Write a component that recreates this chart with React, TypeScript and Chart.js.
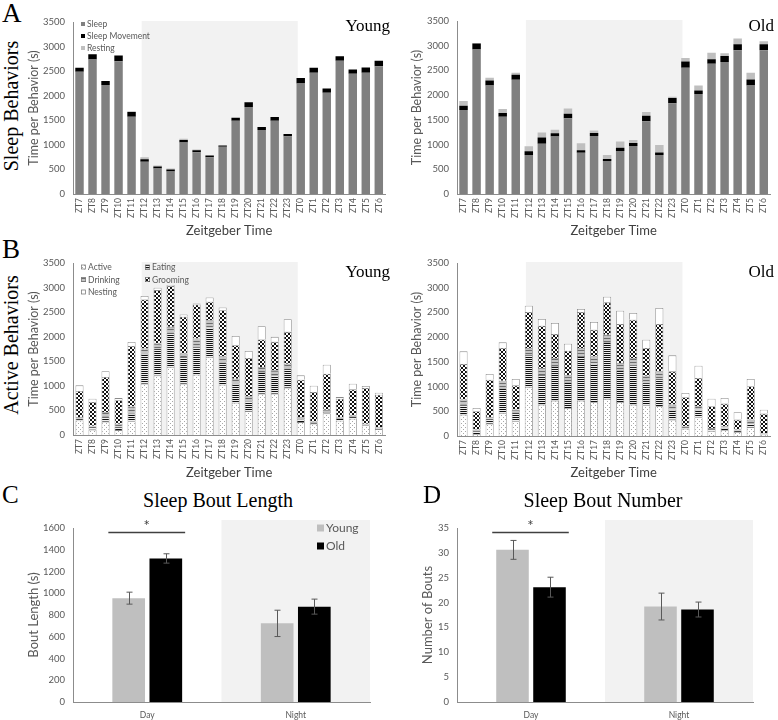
import React, { useEffect, useRef } from "react";
import { Chart, registerables } from "chart.js";
Chart.register(...registerables);

// ---------- data ----------
const ztLabels = ["ZT7","ZT8","ZT9","ZT10","ZT11","ZT12","ZT13","ZT14","ZT15","ZT16","ZT17","ZT18","ZT19","ZT20","ZT21","ZT22","ZT23","ZT0","ZT1","ZT2","ZT3","ZT4","ZT5","ZT6"];

const youngSleep = [2486,2736,2216,2703,1574,655,520,459,1047,851,750,959,1493,1770,1304,1493,1176,2250,2466,2061,2709,2446,2466,2601];
const youngSleepMovement = [82,109,81,115,95,54,41,41,54,41,34,27,61,95,61,75,47,108,102,88,95,88,108,108];
const youngResting = [0,0,0,0,13,41,20,20,21,13,0,0,0,0,0,0,0,0,0,0,0,0,0,0];

const oldSleep = [1698,2921,2194,1562,2310,788,1019,1162,1535,836,1175,666,870,971,1474,788,1834,2554,2024,2636,2670,2908,2194,2908];
const oldSleepMovement = [89,122,102,75,102,75,122,68,89,47,61,41,68,62,109,54,109,129,68,88,122,122,123,122];
const oldResting = [95,14,55,82,40,102,102,68,108,143,48,81,122,61,75,150,27,68,102,136,54,115,135,61];

const youngActive = [296,110,270,100,282,1044,1214,1384,1044,1228,1588,1024,656,486,840,840,963,262,228,440,290,330,200,120];
const youngEating = [40,60,100,70,151,612,545,700,544,565,600,450,390,200,444,376,389,60,30,26,50,50,20,20];
const youngDrinking = [28,20,100,60,149,103,102,117,68,170,149,128,100,100,100,100,100,41,18,48,23,18,8,20];
const youngGrooming = [530,480,710,476,1231,1000,1088,830,749,694,374,939,681,782,558,579,647,763,598,734,375,531,728,660];
const youngNesting = [116,68,116,45,81,68,48,20,47,20,88,54,190,143,272,102,258,88,130,184,33,116,41,41];

const oldActive = [433,40,250,466,298,990,635,716,567,716,682,749,689,635,621,601,332,150,380,100,120,80,180,30];
const oldEating = [200,60,100,500,180,650,600,700,520,900,780,1150,640,800,460,560,200,30,150,40,50,30,80,20];
const oldDrinking = [103,29,35,154,56,140,141,162,141,164,150,151,148,143,140,147,103,17,71,23,27,19,72,12];
const oldGrooming = [721,371,755,660,491,728,856,486,499,728,539,654,788,775,559,957,673,586,573,438,458,203,673,391];
const oldNesting = [256,67,115,115,128,128,135,222,141,60,155,114,269,135,169,324,324,87,249,155,114,148,148,80];

const periodLabels = ["Day", "Night"];
const boutLengthYoung = [955, 723];
const boutLengthYoungErr = [55, 121];
const boutLengthOld = [1320, 877];
const boutLengthOldErr = [43, 69];
const boutNumberYoung = [30.6, 19.2];
const boutNumberYoungErr = [1.9, 2.7];
const boutNumberOld = [23.1, 18.6];
const boutNumberOldErr = [2.0, 1.5];

const sleepTicksMax = 3500;
const sleepTicksStep = 500;

// ---------- styling ----------
const FONT = "Lato, 'Open Sans', sans-serif";
const SERIF = "'Liberation Serif', 'Times New Roman', serif";
const TICK = "#595959";
const AXIS = "#8c8c8c";
const SHADE = "#f2f2f2";

type Box = { left: number; top: number; width: number; height: number };
type Area = { l: number; t: number; r: number; b: number };

function makePattern(kind: string): any {
  const c = document.createElement("canvas");
  const g = c.getContext("2d")!;
  if (kind === "active") {
    c.width = 4; c.height = 4;
    g.fillStyle = "#ffffff"; g.fillRect(0, 0, 4, 4);
    g.fillStyle = "#a8a8a8"; g.fillRect(0, 0, 1, 1); g.fillRect(2, 2, 1, 1);
  } else if (kind === "drinking") {
    c.width = 4; c.height = 3;
    g.fillStyle = "#c4c4c4"; g.fillRect(0, 0, 4, 3);
    g.fillStyle = "#6e6e6e"; g.fillRect(0, 0, 4, 1);
  } else if (kind === "eating") {
    c.width = 4; c.height = 2;
    g.fillStyle = "#f0f0f0"; g.fillRect(0, 0, 4, 2);
    g.fillStyle = "#111111"; g.fillRect(0, 0, 4, 1);
  } else if (kind === "grooming") {
    c.width = 4; c.height = 4;
    g.fillStyle = "#ffffff"; g.fillRect(0, 0, 4, 4);
    g.fillStyle = "#111111"; g.fillRect(0, 0, 2, 2); g.fillRect(2, 2, 2, 2);
  }
  return g.createPattern(c, "repeat");
}

function frame(box: Box, area: Area, opts: any) {
  return {
    responsive: false,
    animation: false,
    devicePixelRatio: 1,
    layout: { padding: { top: area.t - box.top, right: box.left + box.width - area.r, left: 0, bottom: 0 } },
    plugins: { legend: { display: false }, tooltip: { enabled: false } },
    scales: {
      x: {
        stacked: opts.stacked,
        grid: { display: false, drawTicks: false },
        border: { display: true, color: AXIS },
        ticks: {
          autoSkip: false,
          minRotation: opts.rot ? 90 : 0,
          maxRotation: opts.rot ? 90 : 0,
          color: TICK,
          font: { family: FONT, size: opts.xFont },
          padding: opts.xPad,
        },
        title: opts.xTitle
          ? { display: true, text: opts.xTitle, color: "#404040", font: { family: FONT, size: 13 }, padding: { top: 2, bottom: 4 } }
          : { display: false },
        afterFit: (s: any) => { s.height = box.top + box.height - area.b; },
      },
      y: {
        stacked: opts.stacked,
        min: 0,
        max: opts.yMax,
        grid: { display: false, drawTicks: false },
        border: { display: true, color: AXIS },
        ticks: {
          stepSize: opts.yStep,
          color: TICK,
          font: { family: FONT, size: 9.5 },
          padding: 8,
          callback: (v: any) => String(v),
        },
        title: { display: true, text: opts.yTitle, color: TICK, font: { family: FONT, size: opts.yTitleSize }, padding: { top: 2, bottom: 2 } },
        afterFit: (s: any) => { s.width = area.l - box.left; },
      },
    },
  };
}

const nightShade = (startIdx: number, endIdx: number) => ({
  id: "nightShade",
  beforeDraw(chart: any) {
    const { ctx, chartArea, scales } = chart;
    const x = scales.x;
    const step = x.getPixelForValue(1) - x.getPixelForValue(0);
    const x0 = x.getPixelForValue(startIdx) - 0.22 * step;
    const x1 = x.getPixelForValue(endIdx) + 0.77 * step;
    ctx.save();
    ctx.fillStyle = SHADE;
    ctx.fillRect(x0, chartArea.top - 1, x1 - x0, chartArea.bottom - chartArea.top + 1);
    ctx.restore();
  },
});

const halfShade = {
  id: "halfShade",
  beforeDraw(chart: any) {
    const { ctx, chartArea, scales } = chart;
    const x = scales.x;
    const step = x.getPixelForValue(1) - x.getPixelForValue(0);
    const x0 = x.getPixelForValue(1) - step / 2;
    ctx.save();
    ctx.fillStyle = SHADE;
    ctx.fillRect(x0, chartArea.top - 8, chartArea.right - x0, chartArea.bottom - chartArea.top + 8);
    ctx.restore();
  },
};

type LegPos = { dx: number; dy: number };
const legendPlugin = (pos: (LegPos | null)[], size: number, font: number, fromRight: boolean, stroke: boolean) => ({
  id: "customLegend",
  afterDraw(chart: any) {
    const { ctx, chartArea } = chart;
    ctx.save();
    ctx.font = `${font}px ${FONT}`;
    ctx.textBaseline = "middle";
    ctx.textAlign = "left";
    chart.data.datasets.forEach((ds: any, i: number) => {
      const p = pos[i];
      if (!p) return;
      const bx = (fromRight ? chartArea.right : chartArea.left) + p.dx;
      const by = chartArea.top + p.dy;
      ctx.fillStyle = ds.backgroundColor;
      ctx.fillRect(bx, by - size / 2, size, size);
      if (stroke) {
        ctx.strokeStyle = "#7f7f7f";
        ctx.lineWidth = 0.8;
        ctx.strokeRect(bx + 0.5, by - size / 2 + 0.5, size - 1, size - 1);
      }
      ctx.fillStyle = TICK;
      ctx.fillText(ds.label, bx + size + 2, by + 0.5);
    });
    ctx.restore();
  },
});

const errorBars = (errs: number[][]) => ({
  id: "errorBars",
  afterDatasetsDraw(chart: any) {
    const { ctx, scales } = chart;
    const y = scales.y;
    ctx.save();
    ctx.strokeStyle = "#595959";
    ctx.lineWidth = 1;
    chart.data.datasets.forEach((ds: any, i: number) => {
      chart.getDatasetMeta(i).data.forEach((bar: any, j: number) => {
        const v = ds.data[j];
        const e = errs[i][j];
        const yt = y.getPixelForValue(v + e);
        const yb = y.getPixelForValue(v - e);
        const x = Math.round(bar.x) + 0.5;
        ctx.beginPath();
        ctx.moveTo(x, yt); ctx.lineTo(x, yb);
        ctx.moveTo(x - 3, yt); ctx.lineTo(x + 3, yt);
        ctx.moveTo(x - 3, yb); ctx.lineTo(x + 3, yb);
        ctx.stroke();
      });
    });
    ctx.restore();
  },
});

const sigMark = {
  id: "sigMark",
  afterDatasetsDraw(chart: any) {
    const { ctx, chartArea } = chart;
    const b0 = chart.getDatasetMeta(0).data[0];
    const b1 = chart.getDatasetMeta(1).data[0];
    const x0 = b0.x - b0.width / 2 - 4;
    const x1 = b1.x + b1.width / 2 + 3;
    const yy = chartArea.top + 4.5;
    ctx.save();
    ctx.strokeStyle = "#404040";
    ctx.lineWidth = 1.5;
    ctx.beginPath(); ctx.moveTo(x0, yy); ctx.lineTo(x1, yy); ctx.stroke();
    ctx.fillStyle = "#404040";
    ctx.font = `15px ${FONT}`;
    ctx.textAlign = "center";
    ctx.textBaseline = "middle";
    ctx.fillText("*", (x0 + x1) / 2, yy - 6);
    ctx.restore();
  },
};

// ---------- chart builders ----------
function sleepConfig(box: Box, area: Area, sleep: number[], mov: number[], rest: number[], withLegend: boolean) {
  const plugins: any[] = [nightShade(5, 16)];
  if (withLegend) plugins.push(legendPlugin([{ dx: 8, dy: 2 }, { dx: 8, dy: 14 }, { dx: 8, dy: 26 }], 4, 8.5, false, false));
  return {
    type: "bar",
    data: {
      labels: ztLabels,
      datasets: [
        { label: "Sleep", data: sleep, backgroundColor: "#808080", barPercentage: 0.65, categoryPercentage: 1 },
        { label: "Sleep Movement", data: mov, backgroundColor: "#000000", barPercentage: 0.65, categoryPercentage: 1 },
        { label: "Resting", data: rest, backgroundColor: "#bfbfbf", barPercentage: 0.65, categoryPercentage: 1 },
      ],
    },
    options: frame(box, area, { stacked: true, rot: true, xPad: 4, xFont: 8.5, xTitle: "Zeitgeber Time", yMax: sleepTicksMax, yStep: sleepTicksStep, yTitle: "Time per Behavior (s)", yTitleSize: 12.5 }),
    plugins,
  };
}

function activeConfig(box: Box, area: Area, act: number[], eat: number[], drink: number[], groom: number[], nest: number[], withLegend: boolean) {
  const plugins: any[] = [nightShade(5, 16)];
  if (withLegend)
    plugins.push(legendPlugin([{ dx: 8, dy: 4 }, { dx: 72, dy: 4 }, { dx: 8, dy: 16.5 }, { dx: 72, dy: 16.5 }, { dx: 8, dy: 29 }], 5, 8.5, false, true));
  const common = { barPercentage: 0.62, categoryPercentage: 1, borderColor: "#8a8a8a", borderWidth: 0.8 };
  return {
    type: "bar",
    data: {
      labels: ztLabels,
      datasets: [
        { label: "Active", data: act, backgroundColor: makePattern("active"), ...common },
        { label: "Eating", data: eat, backgroundColor: makePattern("eating"), ...common },
        { label: "Drinking", data: drink, backgroundColor: makePattern("drinking"), ...common },
        { label: "Grooming", data: groom, backgroundColor: makePattern("grooming"), ...common },
        { label: "Nesting", data: nest, backgroundColor: "#ffffff", ...common },
      ],
    },
    options: frame(box, area, { stacked: true, rot: true, xPad: 4, xFont: 8.5, xTitle: "Zeitgeber Time", yMax: sleepTicksMax, yStep: sleepTicksStep, yTitle: "Time per Behavior (s)", yTitleSize: 12.5 }),
    plugins,
  };
}

function boutConfig(box: Box, area: Area, young: number[], old: number[], yErr: number[], oErr: number[], yMax: number, yStep: number, yTitle: string, withLegend: boolean) {
  const plugins: any[] = [halfShade, errorBars([yErr, oErr]), sigMark];
  if (withLegend) plugins.push(legendPlugin([{ dx: -53, dy: 0 }, { dx: -53, dy: 18 }], 7, 12, true, false));
  return {
    type: "bar",
    data: {
      labels: periodLabels,
      datasets: [
        { label: "Young", data: young, backgroundColor: "#bfbfbf", barPercentage: 0.88, categoryPercentage: 0.5 },
        { label: "Old", data: old, backgroundColor: "#000000", barPercentage: 0.88, categoryPercentage: 0.5 },
      ],
    },
    options: frame(box, area, { stacked: false, rot: false, xPad: 8, xFont: 8.5, xTitle: null, yMax, yStep, yTitle, yTitleSize: 13 }),
    plugins,
  };
}

function ChartBox({ box, make }: { box: Box; make: () => any }) {
  const ref = useRef<HTMLCanvasElement>(null);
  useEffect(() => {
    const chart = new Chart(ref.current as HTMLCanvasElement, make());
    return () => chart.destroy();
  }, []);
  return (
    <div style={{ position: "absolute", left: box.left, top: box.top, width: box.width, height: box.height }}>
      <canvas ref={ref} width={box.width} height={box.height} style={{ display: "block" }} />
    </div>
  );
}

function Label({ text, x, y, size, rotate, align }: { text: string; x: number; y: number; size: number; rotate?: boolean; align?: string }) {
  const tx = align === "left" ? "0" : align === "right" ? "-100%" : "-50%";
  return (
    <div
      style={{
        position: "absolute",
        left: x,
        top: y,
        transform: `translate(${tx}, -50%)${rotate ? " rotate(-90deg)" : ""}`,
        transformOrigin: rotate ? "center" : undefined,
        fontFamily: SERIF,
        fontSize: size,
        lineHeight: 1,
        whiteSpace: "nowrap",
        color: "#000",
      }}
    >
      {text}
    </div>
  );
}

const boxAY: Box = { left: 24, top: 0, width: 369, height: 243 };
const areaAY: Area = { l: 73, t: 22, r: 393, b: 194 };
const boxAO: Box = { left: 407, top: 0, width: 371, height: 243 };
const areaAO: Area = { l: 457, t: 21, r: 776, b: 194 };
const boxBY: Box = { left: 24, top: 245, width: 369, height: 240 };
const areaBY: Area = { l: 73, t: 263, r: 393, b: 435 };
const boxBO: Box = { left: 407, top: 245, width: 371, height: 240 };
const areaBO: Area = { l: 457, t: 263, r: 776, b: 436 };
const boxC: Box = { left: 24, top: 512, width: 360, height: 208 };
const areaC: Area = { l: 73, t: 528, r: 370, b: 702 };
const boxD: Box = { left: 418, top: 512, width: 360, height: 208 };
const areaD: Area = { l: 457, t: 528, r: 753, b: 702 };

export default function App() {
  return (
    <div style={{ position: "absolute", left: 0, top: 0, width: 778, height: 720, background: "#fff", overflow: "hidden" }}>
      <ChartBox box={boxAY} make={() => sleepConfig(boxAY, areaAY, youngSleep, youngSleepMovement, youngResting, true)} />
      <ChartBox box={boxAO} make={() => sleepConfig(boxAO, areaAO, oldSleep, oldSleepMovement, oldResting, false)} />
      <ChartBox box={boxBY} make={() => activeConfig(boxBY, areaBY, youngActive, youngEating, youngDrinking, youngGrooming, youngNesting, true)} />
      <ChartBox box={boxBO} make={() => activeConfig(boxBO, areaBO, oldActive, oldEating, oldDrinking, oldGrooming, oldNesting, false)} />
      <ChartBox box={boxC} make={() => boutConfig(boxC, areaC, boutLengthYoung, boutLengthOld, boutLengthYoungErr, boutLengthOldErr, 1600, 200, "Bout Length (s)", true)} />
      <ChartBox box={boxD} make={() => boutConfig(boxD, areaD, boutNumberYoung, boutNumberOld, boutNumberYoungErr, boutNumberOldErr, 35, 5, "Number of Bouts", false)} />

      <Label text="A" x={2} y={13} size={27} align="left" />
      <Label text="Sleep Behaviors" x={11} y={106} size={20} rotate />
      <Label text="B" x={2} y={249} size={27} align="left" />
      <Label text="Active Behaviors" x={11} y={345} size={20} rotate />
      <Label text="Young" x={390} y={25} size={17} align="right" />
      <Label text="Old" x={774} y={25} size={17} align="right" />
      <Label text="Young" x={390} y={271} size={17} align="right" />
      <Label text="Old" x={774} y={271} size={17} align="right" />
      <Label text="C" x={2} y={494} size={25} align="left" />
      <Label text="Sleep Bout Length" x={218} y={500} size={20} />
      <Label text="D" x={423} y={494} size={25} align="left" />
      <Label text="Sleep Bout Number" x={603} y={500} size={20} />
    </div>
  );
}
